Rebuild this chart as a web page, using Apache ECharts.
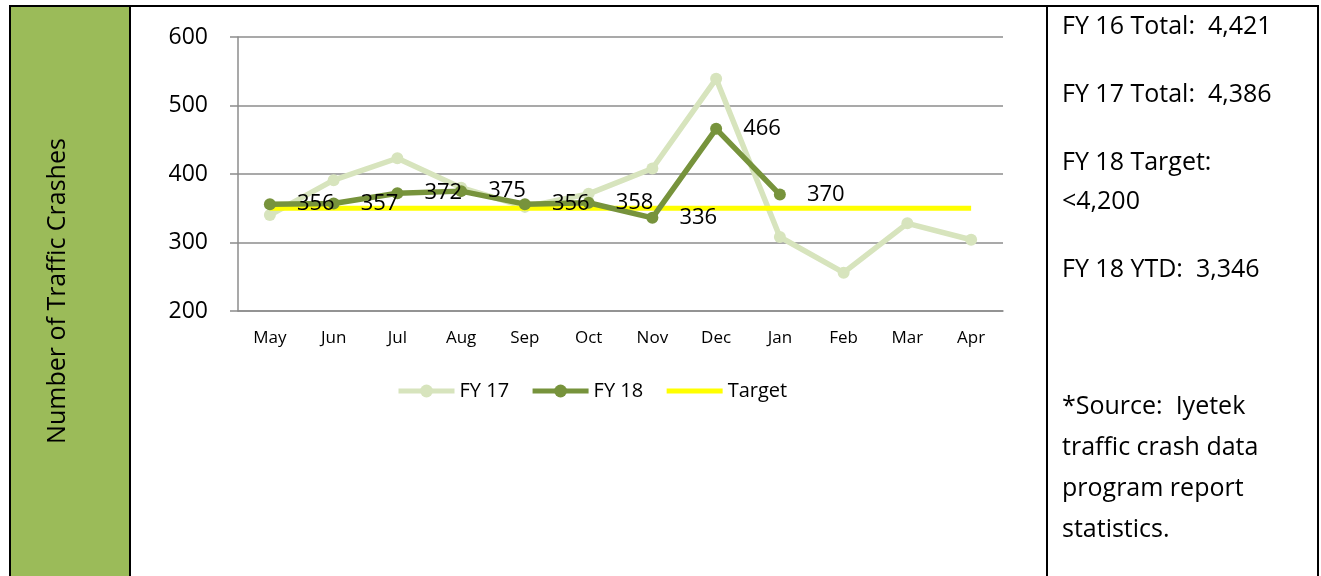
<!DOCTYPE html>
<html>
<head>
<meta charset="utf-8">
<script src="https://cdn.jsdelivr.net/npm/echarts@6/dist/echarts.min.js"></script>
<style>
  html, body { margin: 0; padding: 0; background: #fff; }
  #chart { width: 1321px; height: 576px; }
</style>
</head>
<body>
<div id="chart"></div>
<script>
// Monthly traffic crashes by fiscal year
const months = ['May', 'Jun', 'Jul', 'Aug', 'Sep', 'Oct', 'Nov', 'Dec', 'Jan', 'Feb', 'Mar', 'Apr'];
const fy17 = [340, 391, 423, 380, 352, 371, 408, 539, 308, 256, 328, 304];
const fy18 = [356, 357, 372, 375, 356, 358, 336, 466, 370, null, null, null];
const target = [350, 350, 350, 350, 350, 350, 350, 350, 350, 350, 350, 350];
const yTicks = { min: 200, max: 600, interval: 100 };
const sideNotes = [
  'FY 16 Total:  4,421',
  'FY 17 Total:  4,386',
  'FY 18 Target:',
  '<4,200',
  'FY 18 YTD:  3,346',
  '*Source:  Iyetek',
  'traffic crash data',
  'program report',
  'statistics.'
];
const noteY = [27, 95, 163, 202, 270, 407, 448, 489, 530];

const FONT = 'Open Sans';
const chart = echarts.init(document.getElementById('chart'), null, { renderer: 'canvas' });

chart.setOption({
  animation: false,
  textStyle: { fontFamily: FONT, color: '#000' },
  grid: { left: 238, right: 318, top: 37, bottom: 265, containLabel: false },
  legend: {
    data: [
      { name: 'FY 17' },
      { name: 'FY 18' },
      { name: 'Target', itemStyle: { opacity: 0 } }
    ],
    left: 396,
    top: 381,
    padding: 0,
    itemWidth: 56,
    itemHeight: 16,
    itemGap: 21,
    lineStyle: { width: 5 },
    textStyle: { fontFamily: FONT, fontSize: 20, color: '#000' }
  },
  xAxis: {
    type: 'category',
    data: months,
    boundaryGap: true,
    axisLine: { lineStyle: { color: '#8c8c8c', width: 1.5 } },
    axisTick: { length: 7, lineStyle: { color: '#8c8c8c', width: 1.5 } },
    axisLabel: { fontFamily: FONT, fontSize: 17, color: '#000', margin: 19 }
  },
  yAxis: {
    type: 'value',
    min: yTicks.min,
    max: yTicks.max,
    interval: yTicks.interval,
    axisLine: { show: true, lineStyle: { color: '#8c8c8c', width: 1.5 } },
    axisTick: { show: true, length: 8, lineStyle: { color: '#8c8c8c', width: 1.5 } },
    splitLine: { lineStyle: { color: '#8c8c8c', width: 1.5 } },
    axisLabel: { fontFamily: FONT, fontSize: 23, color: '#000', margin: 30 }
  },
  series: [
    {
      name: 'FY 17',
      type: 'line',
      data: fy17,
      z: 2,
      symbol: 'circle',
      symbolSize: 12,
      lineStyle: { color: '#d7e4bd', width: 5.5 },
      itemStyle: { color: '#d7e4bd' }
    },
    {
      name: 'Target',
      type: 'line',
      data: target,
      z: 3,
      symbol: 'none',
      lineStyle: { color: '#ffff00', width: 5 },
      itemStyle: { color: '#ffff00' }
    },
    {
      name: 'FY 18',
      type: 'line',
      data: fy18,
      z: 4,
      symbol: 'circle',
      symbolSize: 12,
      lineStyle: { color: '#77933c', width: 5.5 },
      itemStyle: { color: '#77933c' },
      label: {
        show: true,
        position: 'right',
        distance: 21,
        fontFamily: FONT,
        fontSize: 22,
        color: '#000'
      }
    }
  ],
  graphic: [
    // green side panel holding the value-axis title
    {
      type: 'rect',
      shape: { x: 10, y: 6, width: 120, height: 580 },
      style: { fill: '#9bbb59', stroke: '#000', lineWidth: 2 },
      z: 0
    },
    {
      type: 'text',
      x: 58,
      y: 291,
      rotation: Math.PI / 2,
      style: {
        text: 'Number of Traffic Crashes',
        fontFamily: FONT,
        fontSize: 25,
        fill: '#000',
        align: 'center',
        verticalAlign: 'middle'
      },
      z: 1
    },
    // table rules
    { type: 'line', shape: { x1: 10, y1: 6, x2: 1319, y2: 6 }, style: { stroke: '#000', lineWidth: 2 } },
    { type: 'line', shape: { x1: 1047, y1: 6, x2: 1047, y2: 590 }, style: { stroke: '#000', lineWidth: 2 } },
    { type: 'line', shape: { x1: 1318, y1: 6, x2: 1318, y2: 590 }, style: { stroke: '#000', lineWidth: 2 } }
  ].concat(sideNotes.map((t, i) => ({
    type: 'text',
    x: 1062,
    y: noteY[i],
    style: {
      text: t,
      fontFamily: FONT,
      fontSize: 25,
      fill: '#000',
      align: 'left',
      verticalAlign: 'middle'
    }
  })))
});
</script>
</body>
</html>
